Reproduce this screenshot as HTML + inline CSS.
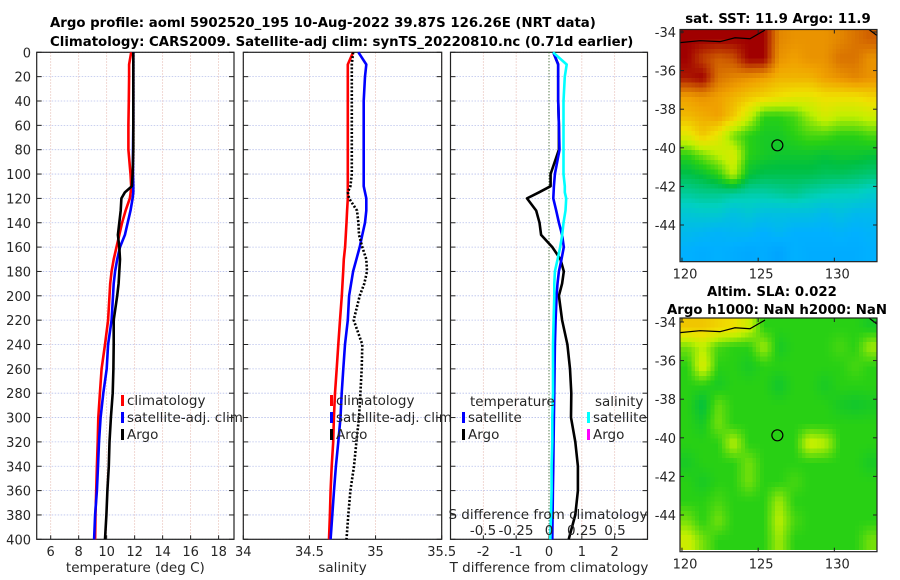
<!DOCTYPE html>
<html><head><meta charset="utf-8"><style>
html,body{margin:0;padding:0;background:#fff;}
svg{display:block;font-family:"DejaVu Sans","Liberation Sans",sans-serif;}
</style></head><body>
<svg id="fig" width="900" height="580" viewBox="0 0 900 580" xmlns="http://www.w3.org/2000/svg">
<rect width="900" height="580" fill="#fff"/>
<text x="50" y="27" font-size="13.3" font-weight="bold" fill="#000">Argo profile: aoml 5902520_195 10-Aug-2022 39.87S 126.26E (NRT data)</text>
<text x="50" y="46" font-size="13.3" font-weight="bold" fill="#000">Climatology: CARS2009. Satellite-adj clim: synTS_20220810.nc (0.71d earlier)</text>
<text x="778" y="23" font-size="13.3" font-weight="bold" text-anchor="middle">sat. SST: 11.9 Argo: 11.9</text>
<text x="772" y="296" font-size="13.3" font-weight="bold" text-anchor="middle">Altim. SLA: 0.022</text>
<text x="777" y="314" font-size="13.3" font-weight="bold" text-anchor="middle">Argo h1000: NaN h2000: NaN</text>
<text transform="translate(894,440) rotate(-90)" font-size="13" text-anchor="middle" fill="#262626">©IMOS 15-Aug-2022 11:39:30</text>
<g id="plots"></g>
</svg>
<script>
// ---- data ----
const depths = [0,10,20,40,60,80,100,110,115,120,130,140,150,160,170,180,190,200,220,240,260,280,300,320,340,360,380,400];
const climT = [11.75,11.6,11.6,11.58,11.55,11.55,11.7,11.75,11.72,11.65,11.35,11.1,10.9,10.7,10.5,10.35,10.25,10.2,10.1,9.88,9.64,9.52,9.4,9.36,9.3,9.25,9.2,9.17];
const satT = [11.9,11.9,11.9,11.9,11.9,11.88,11.88,11.9,11.9,11.85,11.7,11.5,11.3,10.95,10.75,10.6,10.5,10.45,10.35,10.1,10.0,9.76,9.57,9.45,9.38,9.3,9.17,9.1];
const argoT = [11.9,11.9,11.9,11.9,11.9,11.9,11.85,11.8,11.3,11.05,11.0,10.9,10.8,10.9,10.95,10.9,10.85,10.75,10.5,10.5,10.48,10.43,10.3,10.2,10.15,10.05,9.98,9.88];
const climS = [34.83,34.79,34.79,34.79,34.79,34.79,34.79,34.79,34.79,34.79,34.785,34.78,34.775,34.77,34.76,34.755,34.75,34.745,34.731,34.718,34.706,34.693,34.685,34.68,34.668,34.66,34.655,34.648];
const satS = [34.87,34.93,34.92,34.91,34.91,34.91,34.91,34.91,34.92,34.93,34.93,34.92,34.9,34.88,34.855,34.83,34.815,34.80,34.79,34.769,34.756,34.744,34.735,34.718,34.70,34.686,34.673,34.66];
const argoS = [34.83,34.82,34.82,34.82,34.82,34.82,34.82,34.81,34.79,34.80,34.86,34.87,34.875,34.9,34.93,34.935,34.915,34.88,34.835,34.9,34.895,34.885,34.875,34.855,34.837,34.81,34.794,34.78];
const satTdiff = [0.13,0.28,0.28,0.28,0.3,0.32,0.18,0.15,0.14,0.13,0.22,0.3,0.4,0.45,0.38,0.3,0.26,0.23,0.2,0.18,0.17,0.16,0.15,0.14,0.13,0.12,0.11,0.1];
const argoTdiff = [0.13,0.28,0.28,0.28,0.3,0.3,0.05,0.05,-0.3,-0.67,-0.39,-0.29,-0.24,0.1,0.35,0.45,0.4,0.3,0.4,0.56,0.64,0.68,0.67,0.8,0.88,0.88,0.8,0.6];
const satSdiff = [0.03,0.134,0.12,0.11,0.11,0.11,0.11,0.12,0.12,0.13,0.125,0.11,0.1,0.085,0.065,0.045,0.04,0.04,0.035,0.03,0.03,0.03,0.025,0.025,0.02,0.02,0.015,0.01];
const depthTicks = [0,20,40,60,80,100,120,140,160,180,200,220,240,260,280,300,320,340,360,380,400];
const tempTicks = [6,8,10,12,14,16,18];
const salTicks = [34,34.5,35,35.5];
const tdiffTicks = [-2,-1,0,1,2];
const sdiffTicks = [-0.5,-0.25,0,0.25,0.5];
const sdiffLabels = ["-0.5","-0.25","0","0.25","0.5"];
const latTicks = [-34,-36,-38,-40,-42,-44];
const lonTicks = [120,125,130];
const argoLon = 126.26, argoLat = -39.87;
const sstGrid = [
[1,1,1,1,1,1,0.82,0.8,0.8,0.8,0.82,0.85,0.88],
[1,0.92,0.88,0.9,1,1,0.8,0.78,0.8,0.8,0.85,0.85,0.8],
[0.97,1,0.85,0.82,0.8,0.78,0.75,0.75,0.75,0.78,0.8,0.82,0.8],
[0.78,0.8,0.78,0.75,0.72,0.7,0.68,0.66,0.66,0.68,0.68,0.68,0.7],
[0.74,0.76,0.78,0.72,0.62,0.5,0.5,0.52,0.58,0.63,0.6,0.6,0.62],
[0.65,0.72,0.66,0.55,0.5,0.48,0.48,0.5,0.52,0.52,0.5,0.5,0.52],
[0.5,0.55,0.6,0.64,0.5,0.48,0.47,0.47,0.47,0.46,0.47,0.47,0.46],
[0.44,0.46,0.5,0.6,0.46,0.44,0.44,0.44,0.44,0.43,0.43,0.42,0.41],
[0.38,0.39,0.39,0.38,0.37,0.37,0.38,0.39,0.37,0.36,0.35,0.35,0.33],
[0.32,0.33,0.33,0.3,0.32,0.3,0.3,0.3,0.3,0.28,0.3,0.28,0.28],
[0.28,0.27,0.26,0.27,0.27,0.25,0.27,0.25,0.25,0.25,0.26,0.25,0.26],
[0.25,0.24,0.25,0.24,0.23,0.24,0.22,0.25,0.24,0.24,0.24,0.24,0.25]];
const slaGrid = [
[0.72,0.72,0.7,0.68,0.62,0.5,0.5,0.5,0.5,0.5,0.5,0.5,0.48],
[0.55,0.6,0.52,0.5,0.5,0.58,0.48,0.5,0.5,0.5,0.52,0.5,0.58],
[0.5,0.64,0.5,0.5,0.48,0.5,0.5,0.5,0.5,0.5,0.5,0.52,0.5],
[0.5,0.5,0.48,0.5,0.5,0.5,0.47,0.5,0.5,0.48,0.5,0.5,0.5],
[0.5,0.45,0.54,0.5,0.5,0.5,0.5,0.5,0.5,0.5,0.48,0.47,0.48],
[0.5,0.48,0.55,0.5,0.5,0.5,0.5,0.5,0.5,0.5,0.5,0.5,0.5],
[0.5,0.5,0.5,0.6,0.5,0.5,0.5,0.5,0.62,0.6,0.5,0.5,0.5],
[0.48,0.5,0.5,0.5,0.55,0.5,0.5,0.5,0.5,0.5,0.5,0.5,0.48],
[0.5,0.48,0.5,0.5,0.55,0.5,0.5,0.52,0.5,0.5,0.5,0.5,0.5],
[0.5,0.5,0.52,0.5,0.5,0.5,0.58,0.5,0.5,0.5,0.5,0.5,0.5],
[0.55,0.5,0.55,0.5,0.5,0.5,0.6,0.52,0.5,0.5,0.5,0.5,0.5],
[0.62,0.55,0.5,0.5,0.5,0.5,0.58,0.5,0.5,0.5,0.5,0.5,0.55]];

// ---- helpers ----
const NS = "http://www.w3.org/2000/svg";
const root = document.getElementById('plots');
function el(tag, attrs, parent){ const e=document.createElementNS(NS,tag); for(const k in attrs) e.setAttribute(k,attrs[k]); (parent||root).appendChild(e); return e; }
const Y0=52.3, Y1=539.3;
function yDepth(d){ return Y0 + d/400*(Y1-Y0); }
function lin(d0,d1,r0,r1){ return v => r0 + (v-d0)/(d1-d0)*(r1-r0); }

function panel(name, x0, x1, xs, ticks, labels, xlabel){
  const g = el('g',{});
  
  
  ticks.forEach(t=>{ const x=xs(t); const l=el('line',{x1:x,x2:x,y1:Y0,y2:Y1,stroke:'#e8c0b8','stroke-width':0.8,'stroke-dasharray':'1.5,1.5'},g);
      });
  depthTicks.forEach(d=>{ const y=yDepth(d); const l=el('line',{x1:x0,x2:x1,y1:y,y2:y,stroke:'#b8c0ec','stroke-width':0.8,'stroke-dasharray':'1.5,1.5'},g);
     
    el('line',{x1:x0,x2:x0+5,y1:y,y2:y,stroke:'#222','stroke-width':1},g);
    el('line',{x1:x1-5,x2:x1,y1:y,y2:y,stroke:'#222','stroke-width':1},g); });
  ticks.forEach((t,i)=>{ const x=xs(t);
    el('line',{x1:x,x2:x,y1:Y1,y2:Y1-4,stroke:'#222','stroke-width':1},g);
    const tx=el('text',{x:x,y:556,'font-size':13,'text-anchor':'middle',fill:'#262626'},g); tx.textContent=labels[i];
      });
  const b=el('rect',{x:x0,y:Y0,width:x1-x0,height:Y1-Y0,fill:'none',stroke:'#222','stroke-width':1.2},g);
   
  const xl=el('text',{x:(x0+x1)/2,y:572,'font-size':13.5,'text-anchor':'middle',fill:'#262626'},g); xl.textContent=xlabel;
   
  return g;
}
function line(g, name, xs, vals, color, dash){
  const pts = vals.map((v,i)=> xs(v).toFixed(1)+','+yDepth(depths[i]).toFixed(1)).join(' ');
  const p=el('polyline',{points:pts,fill:'none',stroke:color,'stroke-width':2.6,'stroke-linejoin':'round'},g);
  if(dash) p.setAttribute('stroke-dasharray',dash);
  
  
}
function legendEntry(g, x, y, color, label, name){
  const e=el('g',{},g);
  
  
  el('rect',{x:x,y:y-10,width:3,height:11,fill:color},e);
  const t=el('text',{x:x+6,y:y,'font-size':13.5,fill:'#262626'},e); t.textContent=label;
}

depthTicks.forEach(d=>{ const t=el('text',{x:31,y:yDepth(d)+5,'font-size':13,'text-anchor':'end',fill:'#262626'}); t.textContent=d;
    });

// Panel 1 temperature
const xT = lin(5,19.1,36.7,234);
const g1 = panel('temperature-panel',36.7,234,xT,tempTicks,tempTicks.map(String),'temperature (deg C)');
line(g1,'climatology-temperature-line',xT,climT,'#ff0000');
line(g1,'satellite-temperature-line',xT,satT,'#0000ff');
line(g1,'argo-temperature-line',xT,argoT,'#000000');
legendEntry(g1,121,405,'#ff0000','climatology','legend-climatology');
legendEntry(g1,121,422,'#0000ff','satellite-adj. clim','legend-satellite');
legendEntry(g1,121,439,'#000000','Argo','legend-argo');

// Panel 2 salinity
const xS = lin(34,35.5,243.3,441.7);
const g2 = panel('salinity-panel',243.3,441.7,xS,salTicks,['34','34.5','35','35.5'],'salinity');
line(g2,'climatology-salinity-line',xS,climS,'#ff0000');
line(g2,'satellite-salinity-line',xS,satS,'#0000ff');
line(g2,'argo-salinity-line',xS,argoS,'#000000','2,1.8');
legendEntry(g2,330,405,'#ff0000','climatology','legend-climatology-s');
legendEntry(g2,330,422,'#0000ff','satellite-adj. clim','legend-satellite-s');
legendEntry(g2,330,439,'#000000','Argo','legend-argo-s');

// Panel 3 differences
const xD = lin(-3,3,450.5,647.5);
const xSD = v => xD(0) + v*132;
const g3 = panel('difference-panel',450.5,647.5,xD,tdiffTicks,tdiffTicks.map(String),'T difference from climatology');
const zl=el('line',{x1:xD(0),x2:xD(0),y1:Y0,y2:Y1,stroke:'#206020','stroke-width':1,'stroke-dasharray':'1,2'},g3);
 
line(g3,'argo-temperature-diff-line',xD,argoTdiff,'#000000');
line(g3,'satellite-temperature-diff-line',xD,satTdiff,'#0000ff');
line(g3,'satellite-salinity-diff-line',xSD,satSdiff,'#00ffff');
const th=el('text',{x:470,y:406,'font-size':13.5,fill:'#262626'},g3); th.textContent='temperature';
 
const sh=el('text',{x:595,y:406,'font-size':13.5,fill:'#262626'},g3); sh.textContent='salinity';
 
legendEntry(g3,462,422,'#0000ff','satellite','legend-temp-satellite');
legendEntry(g3,462,439,'#000000','Argo','legend-temp-argo');
legendEntry(g3,587,422,'#00ffff','satellite','legend-sal-satellite');
legendEntry(g3,587,439,'#ff00ff','Argo','legend-sal-argo');
const st=el('text',{x:548,y:519,'font-size':13.5,'text-anchor':'middle',fill:'#262626'},g3); st.textContent='S difference from climatology';
 
sdiffTicks.forEach((v,i)=>{ const t=el('text',{x:xSD(v),y:535,'font-size':13.5,'text-anchor':'middle',fill:'#262626'},g3); t.textContent=sdiffLabels[i];
    });

// ---- maps ----
const cstops=[[0,[0,80,255]],[0.25,[0,176,255]],[0.35,[0,208,192]],[0.45,[0,192,64]],[0.5,[40,208,20]],[0.6,[192,240,0]],[0.68,[240,224,0]],[0.78,[240,160,0]],[0.88,[208,96,0]],[1,[160,0,0]]];
function cmap(v){ for(let i=1;i<cstops.length;i++){ if(v<=cstops[i][0]){ const a=cstops[i-1],b=cstops[i],f=(v-a[0])/(b[0]-a[0]); const c=a[1].map((x,k)=>Math.round(x+(b[1][k]-x)*f)); return 'rgb('+c.join(',')+')'; } } return 'rgb(160,0,0)'; }
function sample(grid, r, c){
  // bilinear interpolation on cell centres
  const rr=Math.min(Math.max(r-0.5,0),grid.length-1), cc=Math.min(Math.max(c-0.5,0),grid[0].length-1);
  const r0=Math.floor(rr), c0=Math.floor(cc), r1=Math.min(r0+1,grid.length-1), c1=Math.min(c0+1,grid[0].length-1);
  const fr=rr-r0, fc=cc-c0;
  return grid[r0][c0]*(1-fr)*(1-fc)+grid[r0][c1]*(1-fr)*fc+grid[r1][c0]*fr*(1-fc)+grid[r1][c1]*fr*fc;
}
function map(name, grid, x0, x1, yTop, latTopY){
  const g=el('g',{});
  
  
  const lonS = lin(119.87,132.8,x0,x1);
  const latS = v => latTopY + (-34 - v)*19.3;
  const lonStart=119.87, latStart=-34 + (latTopY-yTop)/19.3;
  const sub=4, cw=(lonS(lonStart+1)-lonS(lonStart))/sub, ch=19.3/sub;
  const cells=el('g',{'shape-rendering':'crispEdges'},g);
  for(let r=0;r<grid.length*sub;r++) for(let c=0;c<grid[0].length*sub;c++){
    const v=sample(grid,(r+0.5)/sub,(c+0.5)/sub);
    el('rect',{x:(x0+c*cw).toFixed(2),y:(yTop+r*ch).toFixed(2),width:(cw+0.5).toFixed(2),height:(ch+0.5).toFixed(2),fill:cmap(v)},cells);
  }
  const bottom = latS(-45.9);
  el('rect',{x:x1,y:yTop-2,width:20,height:bottom-yTop+4,fill:'#fff'},g);
  el('rect',{x:x0-12,y:bottom,width:x1-x0+24,height:22,fill:'#fff'},g);
  el('polyline',{points:`${x0},${latS(-34.55)} ${x0+20},${latS(-34.45)} ${x0+40},${latS(-34.5)} ${x0+55},${latS(-34.3)} ${x0+70},${latS(-34.35)} ${x0+85},${latS(-33.9)}`,fill:'none',stroke:'#000','stroke-width':1.2},g);
  el('polyline',{points:`${x1-8},${yTop} ${x1},${yTop+6}`,fill:'none',stroke:'#000','stroke-width':1.2},g);
  const ci=el('circle',{cx:lonS(argoLon),cy:latS(argoLat),r:5.5,fill:'none',stroke:'#000','stroke-width':1.2},g);
   
  el('rect',{x:x0,y:yTop,width:x1-x0,height:bottom-yTop,fill:'none',stroke:'#222','stroke-width':1.2},g);
  latTicks.forEach(l=>{ const y=latS(l);
    el('line',{x1:x0,x2:x0+4,y1:y,y2:y,stroke:'#222'},g); el('line',{x1:x1-4,x2:x1,y1:y,y2:y,stroke:'#222'},g);
    const t=el('text',{x:x0-4,y:y+5,'font-size':13,'text-anchor':'end',fill:'#262626'},g); t.textContent=l;
      });
  lonTicks.forEach(l=>{ const x=lonS(l);
    el('line',{x1:x,x2:x,y1:bottom,y2:bottom-4,stroke:'#222'},g); el('line',{x1:x,x2:x,y1:yTop,y2:yTop+4,stroke:'#222'},g);
    const t=el('text',{x:x+3,y:bottom+17,'font-size':13,'text-anchor':'middle',fill:'#262626'},g); t.textContent=l;
      });
}
map('sst-map', sstGrid, 680, 877, 29.5, 32);
map('sla-map', slaGrid, 680, 877, 318, 322);
</script>
</body></html>
